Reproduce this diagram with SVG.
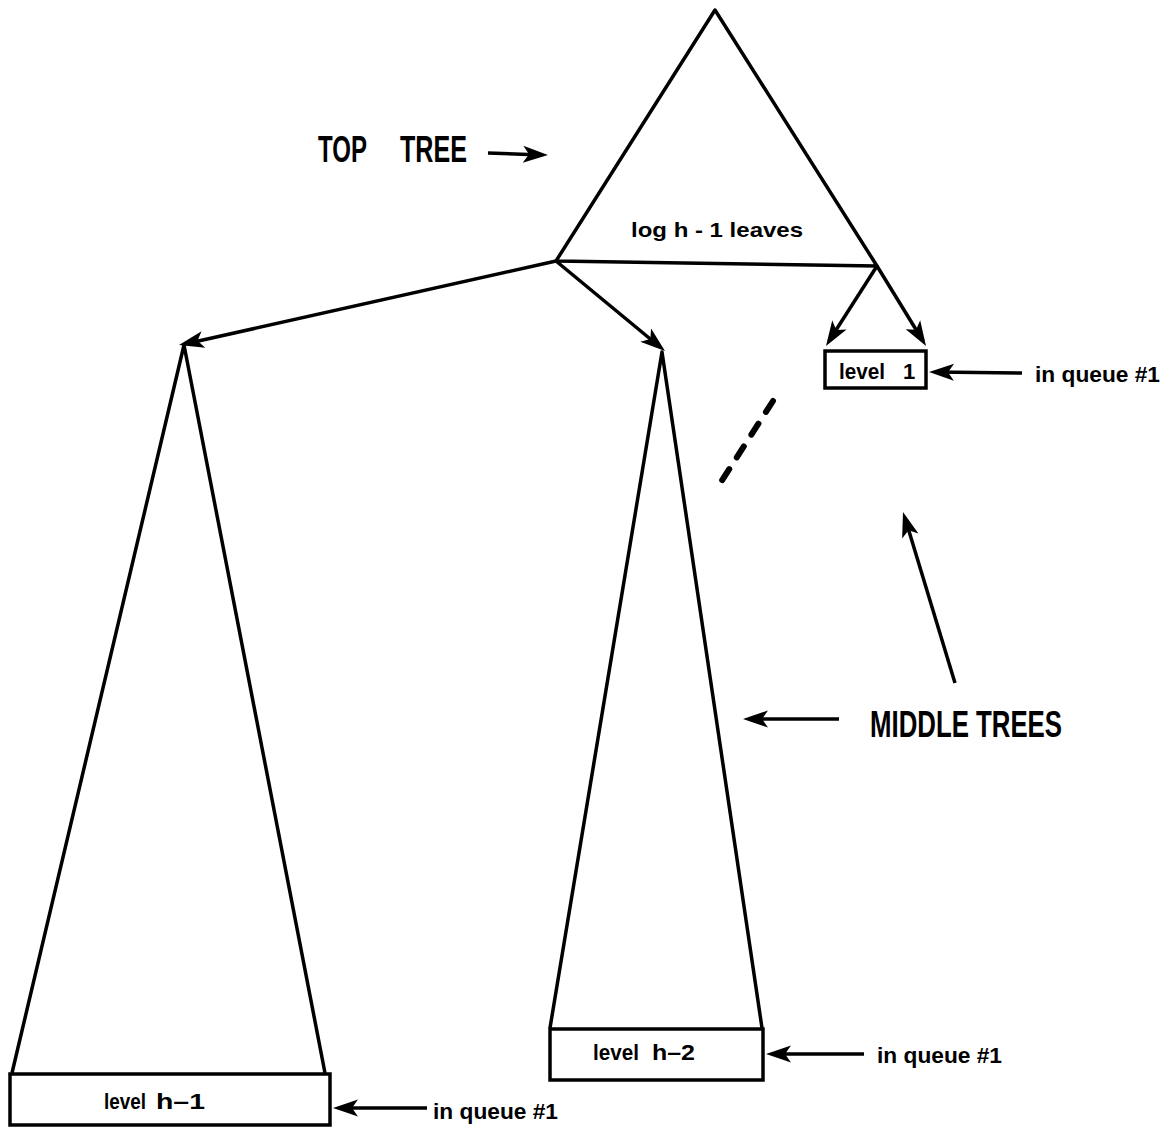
<svg xmlns="http://www.w3.org/2000/svg" xmlns:xlink="http://www.w3.org/1999/xlink" width="1171" height="1128" viewBox="0 0 1171 1128">
  <style>
    .ln { stroke: #000; stroke-width: 3.5; fill: none; stroke-linecap: butt; stroke-linejoin: round; }
    .dash { stroke: #000; stroke-width: 6; fill: none; stroke-linecap: round; stroke-dasharray: 13 14; }
    .box { stroke: #000; stroke-width: 3.5; fill: #fff; }
    .lbl { font-family: "Liberation Sans", Arial, sans-serif; font-weight: bold; fill: #000; }
    .big { font-family: "Liberation Sans", Arial, sans-serif; font-weight: bold; fill: #000; font-size: 37px; }
  </style>
  <defs>
    <!-- arrowhead with its tip at the origin, pointing along +x -->
    <path id="head" d="M0,0 L-25,-8.5 L-19,0 L-25,8.5 Z" fill="#000"/>
  </defs>
  <rect width="1171" height="1128" fill="#fff"/>

  <!-- top tree: apex and leaf line -->
  <g id="top-tree">
    <path class="ln" d="M556,261 L715,10 L877,266 Z"/>
    <text class="lbl" x="631" y="237" font-size="21" textLength="172" lengthAdjust="spacingAndGlyphs">log h - 1 leaves</text>
  </g>

  <!-- left middle tree -->
  <g id="tree-h1">
    <path class="ln" d="M12,1073 L184,345 L325,1073"/>
    <rect class="box" x="10" y="1074" width="320" height="51"/>
    <text class="lbl" x="104" y="1109" font-size="22" textLength="42" lengthAdjust="spacingAndGlyphs">level</text>
    <text class="lbl" x="156" y="1109" font-size="22" textLength="49" lengthAdjust="spacingAndGlyphs">h–1</text>
  </g>

  <!-- central middle tree -->
  <g id="tree-h2">
    <path class="ln" d="M550,1028 L662,352 L762,1028"/>
    <rect class="box" x="550" y="1029" width="213" height="51"/>
    <text class="lbl" x="593" y="1060" font-size="22" textLength="46" lengthAdjust="spacingAndGlyphs">level</text>
    <text class="lbl" x="652" y="1060" font-size="22" textLength="43" lengthAdjust="spacingAndGlyphs">h–2</text>
  </g>

  <!-- level 1 box -->
  <g id="level-1">
    <rect class="box" x="825" y="351" width="101" height="37"/>
    <text class="lbl" x="839" y="379" font-size="22" textLength="46" lengthAdjust="spacingAndGlyphs">level</text>
    <text class="lbl" x="903" y="379" font-size="22">1</text>
  </g>

  <!-- labels -->
  <g id="label-top-tree">
    <text class="big" x="318" y="162" textLength="49" lengthAdjust="spacingAndGlyphs">TOP</text>
    <text class="big" x="400" y="162" textLength="67" lengthAdjust="spacingAndGlyphs">TREE</text>
  </g>
  <g id="label-middle-trees">
    <text class="big" x="870" y="737" textLength="192" lengthAdjust="spacingAndGlyphs">MIDDLE TREES</text>
  </g>
  <g id="label-queue">
    <text class="lbl" x="1035" y="382" font-size="22" textLength="125" lengthAdjust="spacingAndGlyphs">in queue #1</text>
    <text class="lbl" x="877" y="1063" font-size="22" textLength="125" lengthAdjust="spacingAndGlyphs">in queue #1</text>
    <text class="lbl" x="433" y="1119" font-size="22" textLength="125" lengthAdjust="spacingAndGlyphs">in queue #1</text>
  </g>

  <!-- connectors: shafts, then heads placed at each tip -->
  <g id="connectors">
    <line class="ln" x1="556" y1="261" x2="185" y2="344"/>
    <use href="#head" xlink:href="#head" transform="translate(179,345) rotate(167.4)"/>
    <line class="ln" x1="556" y1="261" x2="660" y2="347"/>
    <use href="#head" xlink:href="#head" transform="translate(665,351) rotate(39.5)"/>
    <line class="ln" x1="877" y1="266" x2="829" y2="341"/>
    <use href="#head" xlink:href="#head" transform="translate(826,346) rotate(122.5)"/>
    <line class="ln" x1="877" y1="266" x2="923" y2="341"/>
    <use href="#head" xlink:href="#head" transform="translate(926,346) rotate(58.5)"/>
    <line class="ln" x1="1022" y1="373" x2="935" y2="372"/>
    <use href="#head" xlink:href="#head" transform="translate(929,372) rotate(180.6)"/>
    <line class="ln" x1="864" y1="1054" x2="772" y2="1054"/>
    <use href="#head" xlink:href="#head" transform="translate(766,1054) rotate(180)"/>
    <line class="ln" x1="427" y1="1108" x2="339" y2="1108"/>
    <use href="#head" xlink:href="#head" transform="translate(333,1108) rotate(180)"/>
    <line class="ln" x1="488" y1="153" x2="542" y2="155"/>
    <use href="#head" xlink:href="#head" transform="translate(548,155) rotate(1.9)"/>
    <line class="ln" x1="839" y1="719" x2="749" y2="719"/>
    <use href="#head" xlink:href="#head" transform="translate(743,719) rotate(180)"/>
    <line class="ln" x1="955" y1="683" x2="905" y2="518"/>
    <use href="#head" xlink:href="#head" transform="translate(903,512) rotate(-106.9)"/>
    <line class="dash" x1="773" y1="401" x2="719" y2="485"/>
  </g>
</svg>
